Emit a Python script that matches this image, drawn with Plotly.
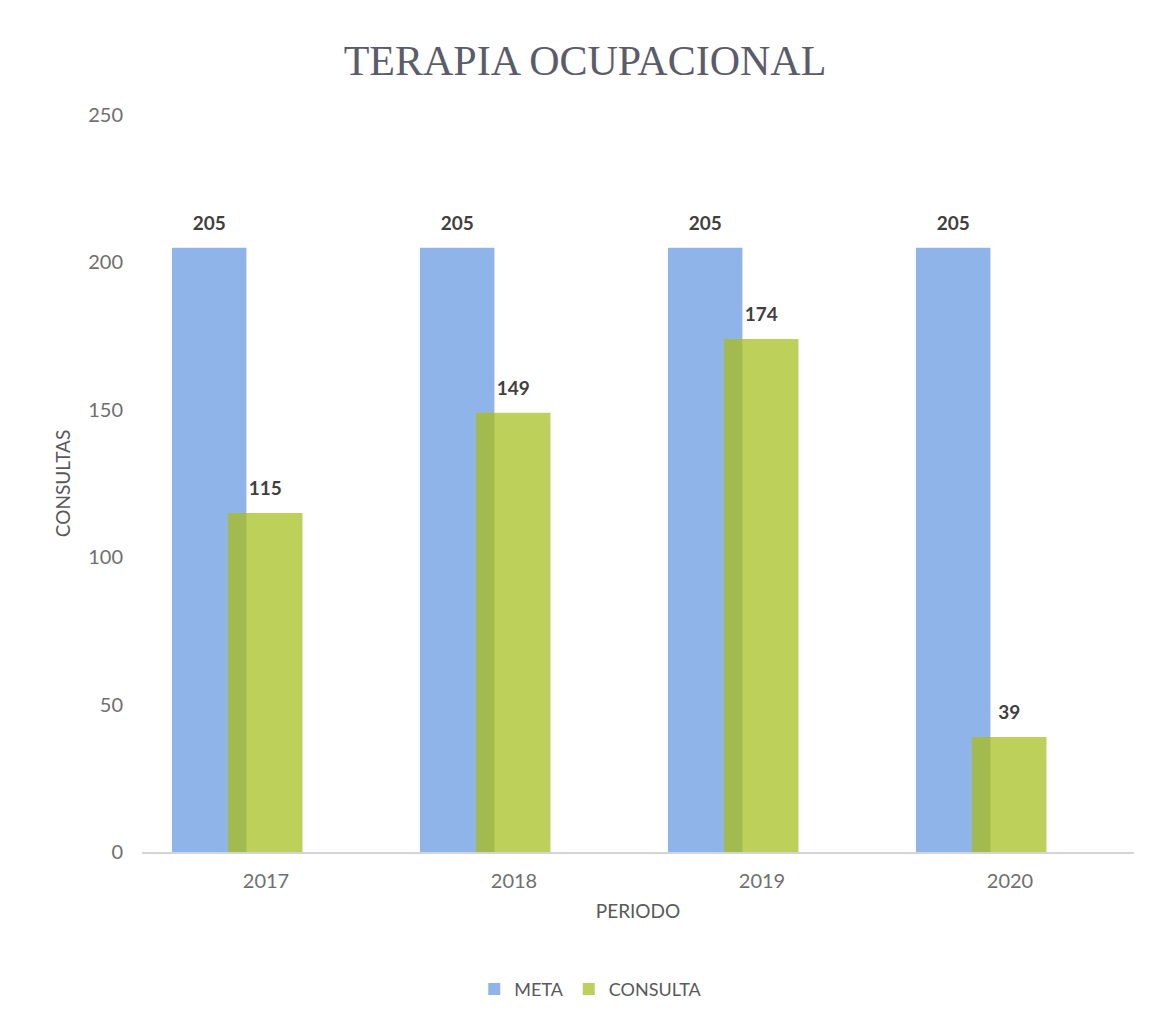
import plotly.graph_objects as go

periodos = ["2017", "2018", "2019", "2020"]
meta = [205, 205, 205, 205]
consulta = [115, 149, 174, 39]

BAR_W = 0.30
META_OFF = -0.379
CONS_OFF = -0.153
OVL_W = META_OFF + BAR_W - CONS_OFF  # overlapping slice of the two bars
overlap = [min(a, b) for a, b in zip(meta, consulta)]

label_font = dict(family="Lato", size=10, color="#404040", weight="bold")
gap_tpl = "<span style='font-size:19px'><b>%{y}</b></span><br> "

fig = go.Figure()
fig.add_trace(go.Bar(
    x=periodos, y=meta, name="META",
    marker=dict(color="#8fb4ea", line=dict(width=0)),
    width=BAR_W, offset=META_OFF,
    texttemplate=gap_tpl, textposition="outside", textfont=label_font,
    cliponaxis=False,
))
fig.add_trace(go.Bar(
    x=periodos, y=consulta, name="CONSULTA",
    marker=dict(color="#bdd05a", line=dict(width=0)),
    width=BAR_W, offset=CONS_OFF,
    texttemplate=gap_tpl, textposition="outside", textfont=label_font,
    cliponaxis=False,
))
fig.add_trace(go.Bar(
    x=periodos, y=overlap, name="overlap", showlegend=False, hoverinfo="skip",
    marker=dict(color="#a3bb4e", line=dict(width=0)),
    width=OVL_W, offset=CONS_OFF,
))

fig.update_layout(
    width=1154, height=1019,
    barmode="overlay",
    uniformtext=dict(mode=False),
    paper_bgcolor="white", plot_bgcolor="white",
    margin=dict(l=134, r=28, t=107, b=175),
    title=dict(text="TERAPIA OCUPACIONAL", x=0.5, xanchor="center", y=0.949, yanchor="middle",
               font=dict(family="Liberation Serif", size=42, color="#5b5c6a")),
    font=dict(family="Lato", color="#6f6f6f", size=19),
    legend=dict(orientation="h", xref="container", yref="container",
                x=0.505, xanchor="center", y=0.037, yanchor="middle",
                font=dict(family="Lato", size=18, color="#595959"), traceorder="normal"),
    xaxis=dict(
        showline=True, linecolor="#d3d3dc", linewidth=1.5,
        ticks="", tickfont=dict(size=20, color="#6f6f6f"), ticklabelstandoff=10,
        title=dict(text="PERIODO", font=dict(size=19, color="#595959"), standoff=14),
        range=[-0.5, 3.5],
    ),
    yaxis=dict(
        range=[0, 250], dtick=50, showgrid=False, zeroline=False,
        tickfont=dict(size=20, color="#6f6f6f"), ticklabelstandoff=18,
        title=dict(text="CONSULTAS", font=dict(size=19, color="#595959"), standoff=12),
    ),
)

fig.write_html("out.html")
